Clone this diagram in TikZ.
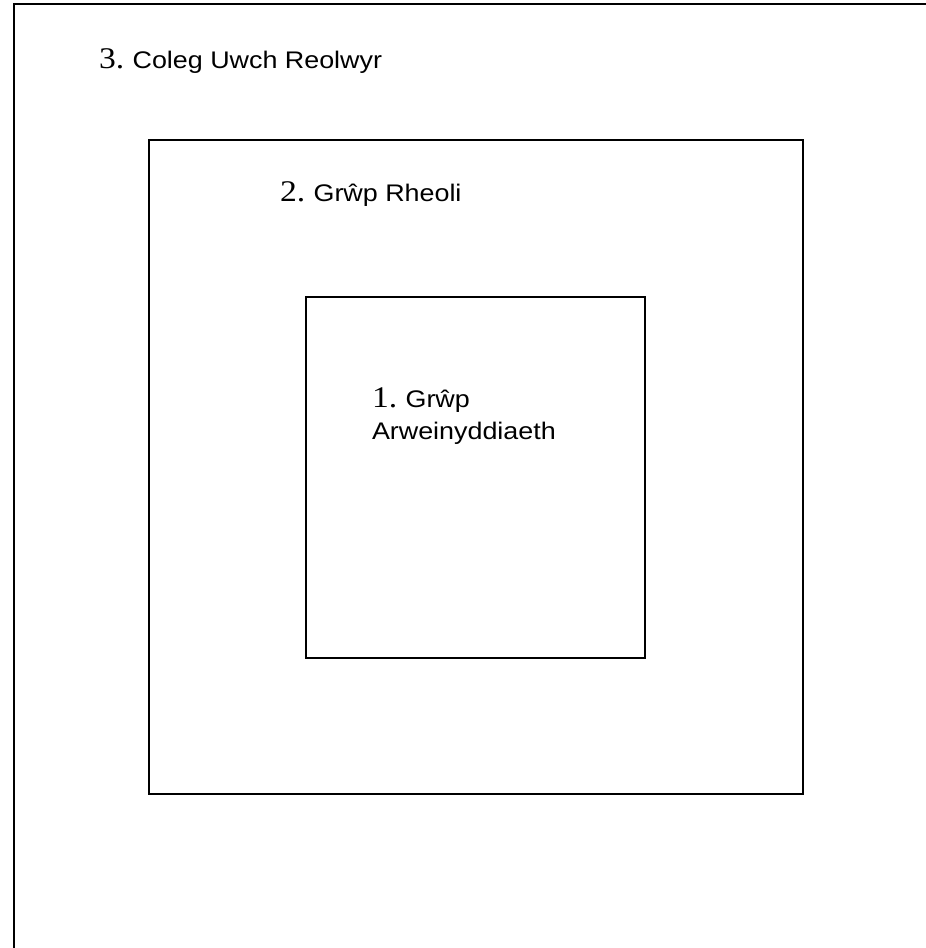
\documentclass[tikz,border=0pt]{standalone}
\usepackage{fontspec}
\usepackage{graphicx}
\setmainfont{Liberation Serif}
\newfontfamily\arialf{Liberation Sans}
\newcommand\wxs[1]{\scalebox{1.12}[1]{#1}}
\newcommand\numf{\fontsize{30}{31}\selectfont\rmfamily}
\newcommand\txtf{\fontsize{24}{31}\selectfont\arialf}
\begin{document}
\begin{tikzpicture}[x=1pt,y=-1pt,
  lbl/.style={anchor=base west,inner sep=0pt,outer sep=0pt},
  frame/.style={draw=black,line width=1.2pt}]
\useasboundingbox (0,0) rectangle (926,948);
\fill[white] (0,0) rectangle (926,948);
% outer frame (only top and left edges visible)
\draw[black,line width=2pt] (14,948) -- (14,4) -- (926,4);
% middle and inner boxes
\draw[frame] (149,140) rectangle (803,794);
\draw[frame] (306,297) rectangle (645,658);
% labels
\node[lbl] (t3) at (99,68) {\wxs{\numf 3.\ \txtf Coleg Uwch Reolwyr}};
\node[lbl] (t2) at (280,201) {\wxs{\numf 2.\ \txtf Grŵp Rheoli}};
\node[lbl] (t1) at (372,407) {\wxs{\numf 1.\ \txtf Grŵp}};
\node[lbl] (t1b) at (372,439) {\wxs{\txtf Arweinyddiaeth}};
\end{tikzpicture}
\end{document}
